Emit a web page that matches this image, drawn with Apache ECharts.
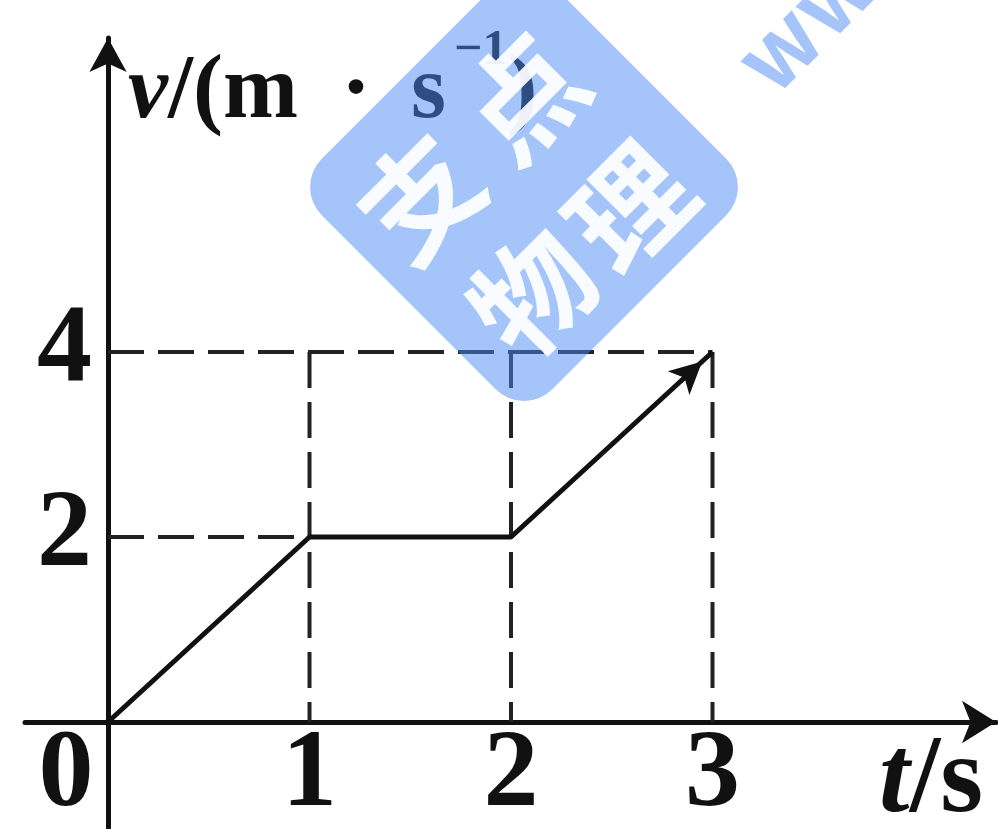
<!DOCTYPE html>
<html>
<head>
<meta charset="utf-8">
<script src="https://cdn.jsdelivr.net/npm/echarts@6/dist/echarts.min.js"></script>
<style>
  html, body { margin: 0; padding: 0; background: #fff; }
  #chart { width: 998px; height: 829px; }
</style>
</head>
<body>
<div id="chart"></div>
<script>
// v-t graph: speed (m/s) against time (s)
const times = [0, 1, 2, 3];
const speeds = [0, 2, 2, 4];

// tick labels
const tTicks = [0, 1, 2, 3];
const vTicks = [2, 4];

// dashed reading guides
const dropTimes = [1, 2, 3];            // vertical guides from the top level down to the t axis
const guideTop = 4;
const levelGuides = [[2, 1], [4, 3]];   // [speed level, t where the horizontal guide stops]

// axis extents (axes run a little past the origin on both sides)
const tRange = [-0.412, 4.407];
const vRange = [-1.146, 7.395];

const serif = '"Liberation Serif", "Times New Roman", serif';
const cjk = '"Noto Sans CJK SC", sans-serif';
const ink = '#111111';

const grid = { left: 25, right: 2, top: 38, bottom: 1 };
const W = 998, H = 829;
const gridW = W - grid.left - grid.right;
const gridH = H - grid.top - grid.bottom;
// shift the axes so they cross at the origin
const xAxisShift = -(0 - vRange[0]) / (vRange[1] - vRange[0]) * gridH;
const yAxisShift = -(0 - tRange[0]) / (tRange[1] - tRange[0]) * gridW;

const chart = echarts.init(document.getElementById('chart'));

const motion = times.map((t, i) => [t, speeds[i]]);

const guideSeries = [];
dropTimes.forEach(t => guideSeries.push([[t, guideTop], [t, 0]]));
levelGuides.forEach(([v, tEnd]) => guideSeries.push([[0, v], [tEnd, v]]));

const digit = { fontFamily: serif, fontSize: 110, fontWeight: 'bold', color: ink };

function buildMotionData(rot, offset) {
  return motion.map((p, i) => {
    if (i !== motion.length - 1) return { value: p };
    return {
      value: p,
      symbol: 'arrow',
      symbolSize: [24, 32],
      symbolRotate: rot,
      symbolOffset: offset,
      itemStyle: { color: ink }
    };
  });
}

// watermark badge
const badgeFill = 'rgba(74, 137, 245, 0.5)';
const wmText = (ch, x, y) => ({
  type: 'text', x: x, y: y, rotation: Math.PI / 4, z: 101,
  style: {
    text: ch, fill: 'rgba(255,255,255,0.92)', font: 'bold 118px ' + cjk,
    align: 'center', verticalAlign: 'middle'
  }
});

const nameFont = { fontFamily: serif, fontSize: 90, fontWeight: 'bold', color: ink };

const option = {
  animation: false,
  backgroundColor: '#ffffff',
  grid: Object.assign({ outerBoundsMode: 'none' }, grid),
  xAxis: {
    type: 'value', min: tRange[0], max: tRange[1],
    offset: xAxisShift,
    axisLine: {
      onZero: false, symbol: ['none', 'arrow'], symbolSize: [32, 34],
      lineStyle: { color: ink, width: 5 }
    },
    axisTick: { show: false },
    splitLine: { show: false },
    axisLabel: {
      customValues: tTicks, margin: 0,
      formatter: v => (v === 0 ? '{o|0}' : '{d|' + v + '}'),
      rich: { d: digit, o: Object.assign({ padding: [0, 84, 0, 0] }, digit) }
    },
    name: '{i|t}{n|/s}', nameLocation: 'end', nameGap: -13,
    nameTextStyle: {
      align: 'right', verticalAlign: 'top', padding: [6, 0, 0, 0],
      rich: {
        i: { fontFamily: serif, fontSize: 110, fontStyle: 'italic', fontWeight: 'bold', color: ink },
        n: { fontFamily: serif, fontSize: 110, fontWeight: 'bold', color: ink }
      }
    }
  },
  yAxis: {
    type: 'value', min: vRange[0], max: vRange[1],
    offset: yAxisShift,
    axisLine: {
      onZero: false, symbol: ['none', 'arrow'], symbolSize: [28, 34],
      lineStyle: { color: ink, width: 5 }
    },
    axisTick: { show: false },
    splitLine: { show: false },
    axisLabel: {
      customValues: vTicks, margin: 16,
      formatter: v => '{d|' + v + '}',
      rich: { d: digit }
    },
    name: '{i|v}{n|/(m}{dot|·}{n|s}{sup|\u22121}{n|)}', nameLocation: 'end', nameGap: 12,
    nameTextStyle: {
      align: 'left', verticalAlign: 'top', padding: [0, 0, 0, 20],
      rich: {
        i: Object.assign({}, nameFont, { fontStyle: 'italic' }),
        n: nameFont,
        dot: Object.assign({}, nameFont, { padding: [0, 40, 0, 43] }),
        sup: { fontFamily: serif, fontSize: 50, fontWeight: 'bold', color: ink, verticalAlign: 'top', padding: [0, 0, 86, 8] }
      }
    }
  },
  series: [
    {
      type: 'line', data: buildMotionData(0, [0, 0]),
      symbol: 'none', showSymbol: true, silent: true,
      lineStyle: { color: ink, width: 5 }, z: 5
    }
  ].concat(guideSeries.map(seg => ({
    type: 'line', data: seg, symbol: 'none', silent: true,
    lineStyle: { color: '#222222', width: 4, type: [36, 14] }, z: 3
  }))),
  graphic: [
    {
      type: 'rect', x: 524, y: 187, rotation: Math.PI / 4, z: 100,
      shape: { x: -163, y: -163, width: 326, height: 326, r: 40 },
      style: { fill: badgeFill }
    },
    wmText('支', 420, 197),
    wmText('点', 523, 97),
    wmText('物', 533, 293),
    wmText('理', 630, 207),
    {
      type: 'text', x: 805, y: 20, rotation: Math.PI / 4, z: 100,
      style: { text: 'ww', fill: badgeFill, font: 'bold 90px ' + cjk, align: 'center', verticalAlign: 'middle' }
    }
  ]
};

chart.setOption(option);

// orient the arrowhead on the last point along the final segment
const a = chart.convertToPixel({ gridIndex: 0 }, motion[motion.length - 2]);
const b = chart.convertToPixel({ gridIndex: 0 }, motion[motion.length - 1]);
const dx = b[0] - a[0], dy = b[1] - a[1];
const len = Math.hypot(dx, dy);
const ux = dx / len, uy = dy / len;
const rot = -Math.atan2(ux, -uy) * 180 / Math.PI;
const back = 14;
chart.setOption({ series: [{ data: buildMotionData(rot, [-ux * back, -uy * back]) }] });
</script>
</body>
</html>
